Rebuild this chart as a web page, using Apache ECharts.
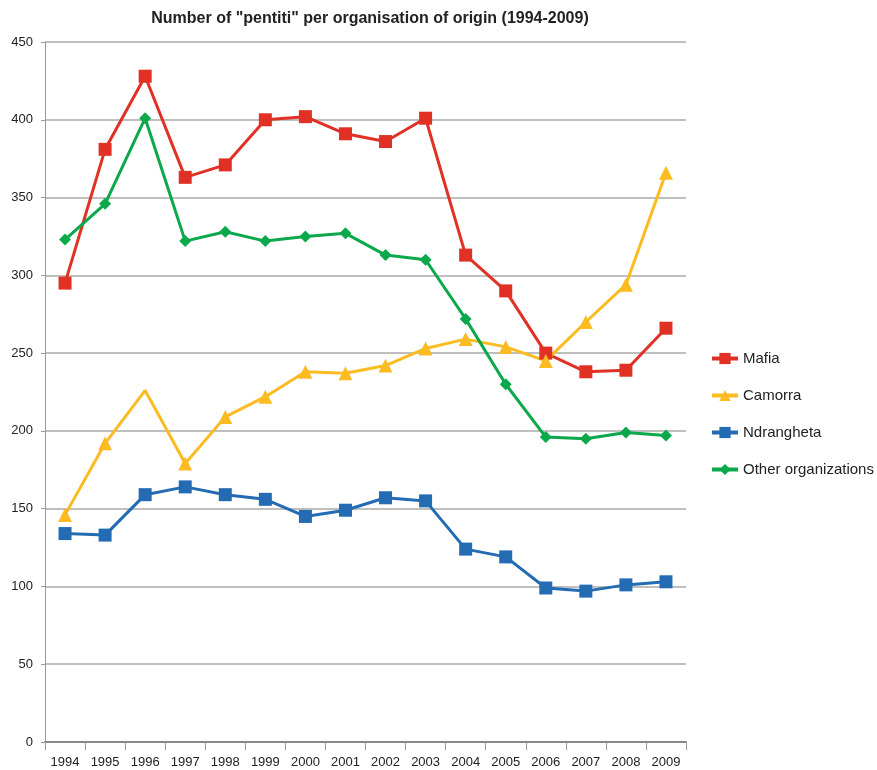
<!DOCTYPE html>
<html>
<head>
<meta charset="utf-8">
<script src="https://cdn.jsdelivr.net/npm/echarts@6/dist/echarts.min.js"></script>
<style>
  html, body { margin: 0; padding: 0; background: #fff; }
  #chart { width: 877px; height: 770px; }
</style>
</head>
<body>
<div id="chart"></div>
<script>
  var years = ['1994', '1995', '1996', '1997', '1998', '1999', '2000', '2001',
               '2002', '2003', '2004', '2005', '2006', '2007', '2008', '2009'];
  var mafia      = [295, 381, 428, 363, 371, 400, 402, 391, 386, 401, 313, 290, 250, 238, 239, 266];
  var camorra    = [146, 192, 226, 179, 209, 222, 238, 237, 242, 253, 259, 254, 245, 270, 294, 366];
  var ndrangheta = [134, 133, 159, 164, 159, 156, 145, 149, 157, 155, 124, 119, 99, 97, 101, 103];
  var others     = [323, 346, 401, 322, 328, 322, 325, 327, 313, 310, 272, 230, 196, 195, 199, 197];
  var yTicks = [0, 50, 100, 150, 200, 250, 300, 350, 400, 450];
  // the 1996 Camorra point has no marker in the original
  var camorraNoMarker = ['1996'];

  var chart = echarts.init(document.getElementById('chart'));

  function makeSeries(name, values, color, symbol, size, noMarker) {
    return {
      name: name,
      type: 'line',
      data: values.map(function (v, i) {
        if (noMarker && noMarker.indexOf(years[i]) >= 0) {
          return { value: v, symbol: 'none' };
        }
        return v;
      }),
      symbol: symbol,
      symbolSize: size,
      showAllSymbol: true,
      itemStyle: { color: color },
      lineStyle: { color: color, width: 3 },
      emphasis: { disabled: true }
    };
  }

  var font = 'Liberation Sans, Arial, Helvetica, sans-serif';

  chart.setOption({
    animation: false,
    title: {
      text: 'Number of "pentiti" per organisation of origin (1994-2009)',
      left: 365,
      textAlign: 'center',
      top: 6,
      textStyle: { fontFamily: font, fontSize: 16, fontWeight: 'bold', color: '#222' }
    },
    legend: {
      orient: 'vertical',
      left: 705,
      top: 346,
      itemWidth: 26,
      itemHeight: 14,
      itemGap: 22,
      lineStyle: { width: 4 },
      textStyle: { fontFamily: font, fontSize: 15, color: '#222' },
      data: ['Mafia', 'Camorra', 'Ndrangheta', 'Other organizations']
    },
    grid: { left: 45, right: 191, top: 42, bottom: 28, containLabel: false },
    xAxis: {
      type: 'category',
      data: years,
      boundaryGap: true,
      axisLine: { lineStyle: { color: '#888', width: 2 } },
      axisTick: { show: true, length: 8, alignWithLabel: false, lineStyle: { color: '#999' } },
      axisLabel: { fontFamily: font, fontSize: 13, color: '#222', margin: 14, interval: 0 }
    },
    yAxis: {
      type: 'value',
      min: yTicks[0],
      max: yTicks[yTicks.length - 1],
      interval: 50,
      axisLine: { show: true, lineStyle: { color: '#999', width: 1 } },
      axisTick: { show: true, length: 4, lineStyle: { color: '#999' } },
      axisLabel: { fontFamily: font, fontSize: 13, color: '#222', margin: 12 },
      splitLine: { lineStyle: { color: '#aaa', width: 1.5 } }
    },
    series: [
      makeSeries('Mafia', mafia, '#E03124', 'rect', 13),
      makeSeries('Camorra', camorra, '#FBBB21', 'triangle', 14, camorraNoMarker),
      makeSeries('Ndrangheta', ndrangheta, '#236BB2', 'rect', 13),
      makeSeries('Other organizations', others, '#0CA84C', 'diamond', 12)
    ]
  });
</script>
</body>
</html>
